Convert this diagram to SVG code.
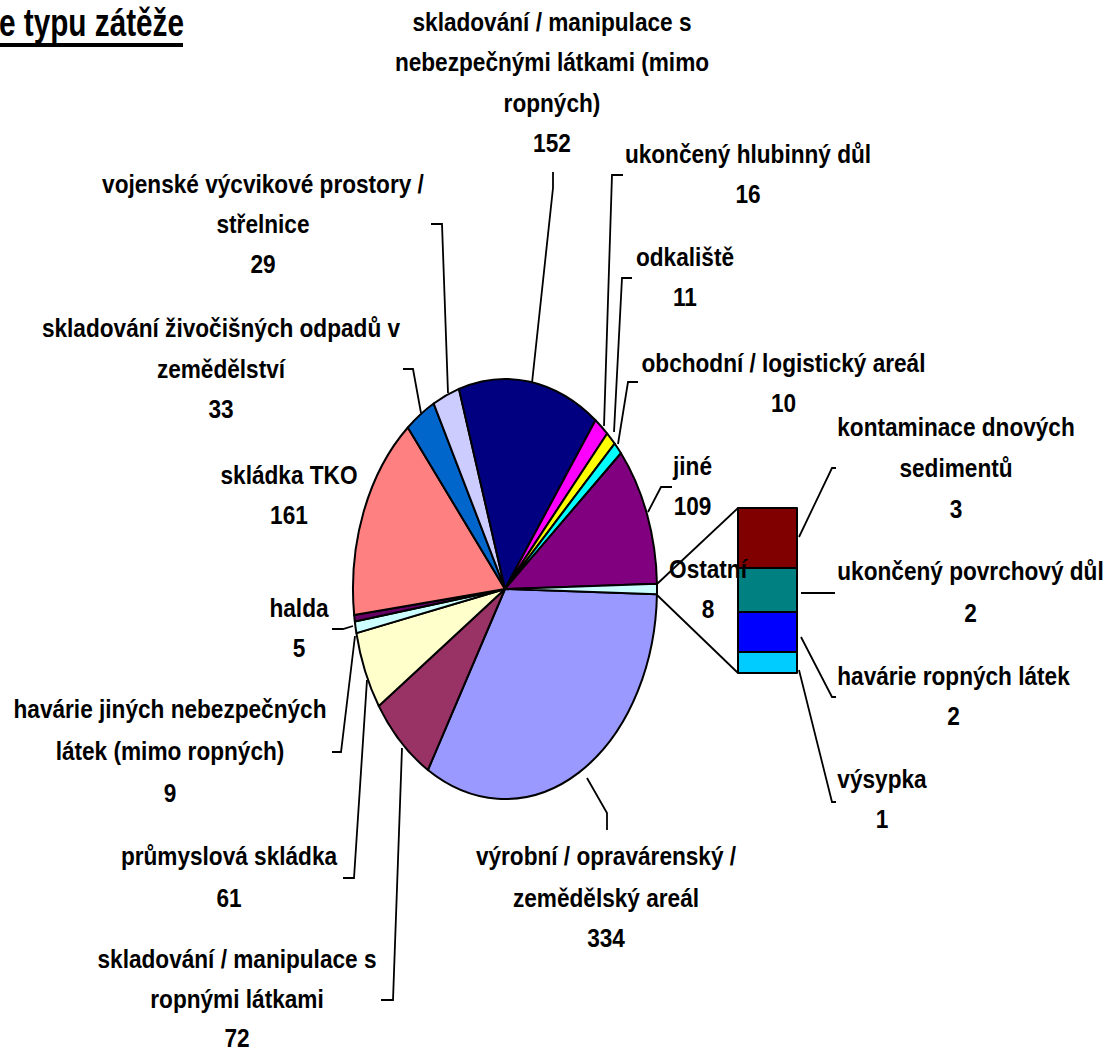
<svg xmlns="http://www.w3.org/2000/svg" width="1107" height="1054" viewBox="0 0 1107 1054">
<style>
.s{stroke:#000;stroke-width:2;stroke-linejoin:round}
.t{font-family:"Liberation Sans",Arial,sans-serif;font-weight:bold;font-size:26px;text-anchor:middle;fill:#000}
.ld{fill:none;stroke:#000;stroke-width:1.8}
</style>
<rect width="1107" height="1054" fill="#fff"/>
<g id="title">
<text x="-1" y="36" style="font-family:'Liberation Sans',Arial,sans-serif;font-weight:bold;font-size:38px" textLength="185" lengthAdjust="spacingAndGlyphs">e typu zátěže</text>
<rect x="0" y="43" width="183" height="4" fill="#000"/>
</g>
<g id="bar">
<g id="kontaminace"><rect class="s" x="738" y="508" width="59" height="60" fill="#800000"/>
<g transform="scale(0.87 1)"><text class="t" x="1098.85" y="436">kontaminace dnových</text><text class="t" x="1098.85" y="477">sedimentů</text><text class="t" x="1098.85" y="518">3</text></g></g>
<g id="povrchovy"><rect class="s" x="738" y="568" width="59" height="44" fill="#008080"/>
<g transform="scale(0.87 1)"><text class="t" x="1115.52" y="580">ukončený povrchový důl</text><text class="t" x="1115.52" y="622">2</text></g></g>
<g id="havarie-ropne"><rect class="s" x="738" y="612" width="59" height="40" fill="#0000FF"/>
<g transform="scale(0.87 1)"><text class="t" x="1095.98" y="685">havárie ropných látek</text><text class="t" x="1095.98" y="725">2</text></g></g>
<g id="vysypka"><rect class="s" x="738" y="652" width="59" height="21" fill="#00CCFF"/>
<g transform="scale(0.87 1)"><text class="t" x="1013.79" y="788">výsypka</text><text class="t" x="1013.79" y="828">1</text></g></g>
</g>
<g id="pie">
<g id="vyrobni"><path class="s" fill="#9999FF" d="M505 589 L656.95 594.23 A152 210 0 0 1 427.91 769.99 Z"/>
<g transform="scale(0.87 1)"><text class="t" x="696.55" y="865">výrobní / opravárenský /</text><text class="t" x="696.55" y="907">zemědělský areál</text><text class="t" x="696.55" y="947">334</text></g></g>
<g id="ropne"><path class="s" fill="#993366" d="M505 589 L427.91 769.99 A152 210 0 0 1 378.78 706.01 Z"/>
<g transform="scale(0.87 1)"><text class="t" x="272.41" y="968">skladování / manipulace s</text><text class="t" x="272.41" y="1008">ropnými látkami</text><text class="t" x="272.41" y="1047">72</text></g></g>
<g id="prumyslova"><path class="s" fill="#FFFFCC" d="M505 589 L378.78 706.01 A152 210 0 0 1 356.39 633.09 Z"/>
<g transform="scale(0.87 1)"><text class="t" x="263.22" y="865">průmyslová skládka</text><text class="t" x="263.22" y="907">61</text></g></g>
<g id="havarie-jine"><path class="s" fill="#CCFFFF" d="M505 589 L356.39 633.09 A152 210 0 0 1 354.83 621.53 Z"/>
<g transform="scale(0.87 1)"><text class="t" x="195.4" y="718">havárie jiných nebezpečných</text><text class="t" x="195.4" y="760">látek (mimo ropných)</text><text class="t" x="195.4" y="802">9</text></g></g>
<g id="halda"><path class="s" fill="#660066" d="M505 589 L354.83 621.53 A152 210 0 0 1 354.17 615.06 Z"/>
<g transform="scale(0.87 1)"><text class="t" x="343.68" y="617">halda</text><text class="t" x="343.68" y="657">5</text></g></g>
<g id="tko"><path class="s" fill="#FF8080" d="M505 589 L354.17 615.06 A152 210 0 0 1 407.82 427.53 Z"/>
<g transform="scale(0.87 1)"><text class="t" x="332.18" y="484">skládka TKO</text><text class="t" x="332.18" y="524">161</text></g></g>
<g id="zivocisne"><path class="s" fill="#0066CC" d="M505 589 L407.82 427.53 A152 210 0 0 1 433.69 403.55 Z"/>
<g transform="scale(0.87 1)"><text class="t" x="254.02" y="337">skladování živočišných odpadů v</text><text class="t" x="254.02" y="378">zemědělství</text><text class="t" x="254.02" y="418">33</text></g></g>
<g id="vojenske"><path class="s" fill="#CCCCFF" d="M505 589 L433.69 403.55 A152 210 0 0 1 458.93 388.87 Z"/>
<g transform="scale(0.87 1)"><text class="t" x="302.3" y="193">vojenské výcvikové prostory /</text><text class="t" x="302.3" y="233">střelnice</text><text class="t" x="302.3" y="273">29</text></g></g>
<g id="nebezpecne"><path class="s" fill="#000080" d="M505 589 L458.93 388.87 A152 210 0 0 1 595.49 420.26 Z"/>
<g transform="scale(0.87 1)"><text class="t" x="634.48" y="31">skladování / manipulace s</text><text class="t" x="634.48" y="71.5">nebezpečnými látkami (mimo</text><text class="t" x="634.48" y="112">ropných)</text><text class="t" x="634.48" y="152.5">152</text></g></g>
<g id="hlubinny"><path class="s" fill="#FF00FF" d="M505 589 L595.49 420.26 A152 210 0 0 1 607.19 433.51 Z"/>
<g transform="scale(0.87 1)"><text class="t" x="859.77" y="163">ukončený hlubinný důl</text><text class="t" x="859.77" y="203">16</text></g></g>
<g id="odkaliste"><path class="s" fill="#FFFF00" d="M505 589 L607.19 433.51 A152 210 0 0 1 614.63 443.54 Z"/>
<g transform="scale(0.87 1)"><text class="t" x="787.36" y="266">odkaliště</text><text class="t" x="787.36" y="306">11</text></g></g>
<g id="obchodni"><path class="s" fill="#00FFFF" d="M505 589 L614.63 443.54 A152 210 0 0 1 620.97 453.24 Z"/>
<g transform="scale(0.87 1)"><text class="t" x="900.57" y="372">obchodní / logistický areál</text><text class="t" x="900.57" y="412">10</text></g></g>
<g id="jine"><path class="s" fill="#800080" d="M505 589 L620.97 453.24 A152 210 0 0 1 656.95 583.77 Z"/>
<g transform="scale(0.87 1)"><text class="t" x="795.98" y="475">jiné</text><text class="t" x="795.98" y="515">109</text></g></g>
<g id="ostatni"><path class="s" fill="#CCFFFF" d="M505 589 L656.95 583.77 A152 210 0 0 1 656.95 594.23 Z"/>
<g transform="scale(0.87 1)"><text class="t" x="813.79" y="578">Ostatní</text><text class="t" x="813.79" y="618">8</text></g></g>
</g>
<g id="connectors">
<polyline class="ld" points="553,172 553,188 532,383"/>
<polyline class="ld" points="431,224 442,224 448,393"/>
<polyline class="ld" points="403,369 413,369 421,413"/>
<polyline class="ld" points="623,175 612,175 604,426"/>
<polyline class="ld" points="632,278 622,278 614,432"/>
<polyline class="ld" points="638,382 628,382 618,444"/>
<polyline class="ld" points="672,487 661,487 648,512"/>
<polyline class="ld" points="587,778 607,813 607,830"/>
<polyline class="ld" points="402,748 393,1000 381,1000"/>
<polyline class="ld" points="367,680 354,878 343,878"/>
<polyline class="ld" points="355,636 341,752 332,752"/>
<polyline class="ld" points="353,626 343,629 332,629"/>
<polyline class="ld" points="799,537 832,468 836,468"/>
<polyline class="ld" points="801,593 835,593"/>
<polyline class="ld" points="801,637 832,697 836,697"/>
<polyline class="ld" points="799,670 832,802 836,802"/>
<line class="ld" x1="657" y1="584" x2="738" y2="508"/>
<line class="ld" x1="657" y1="595" x2="738" y2="673"/>
</g>
</svg>
